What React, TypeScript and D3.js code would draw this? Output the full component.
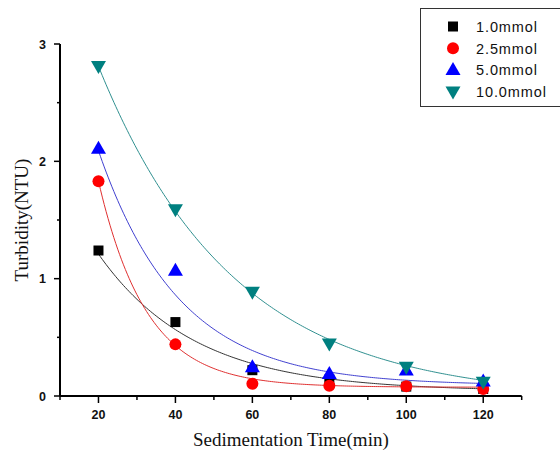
import React from "react";
import * as d3 from "d3";

// Sampling times (min)
const times = [20, 40, 60, 80, 100, 120];

// Measured turbidity (NTU) per dosage
const seriesNames = ["1.0mmol", "2.5mmol", "5.0mmol", "10.0mmol"];
const turbidity1 = [1.24, 0.63, 0.22, 0.14, 0.08, 0.06];
const turbidity25 = [1.83, 0.44, 0.105, 0.088, 0.083, 0.06];
const turbidity5 = [2.11, 1.07, 0.247, 0.19, 0.22, 0.125];
const turbidity10 = [2.81, 1.59, 0.887, 0.446, 0.247, 0.12];

// Exponential decay fits: y = y0 + A * exp(-(t - 20) / tau)
const fitY0 = [0.04, 0.075, 0.09, -0.03];
const fitA = [1.17, 1.755, 2.0, 2.84];
const fitTau = [25, 12.5, 21, 35];

const xTicks = [20, 40, 60, 80, 100, 120];
const yTicks = [0, 1, 2, 3];

const markerColors = ["#000000", "#ff0000", "#0000ff", "#008080"];
const lineColors = ["#333333", "#e03030", "#4040d0", "#309090"];
const markerKinds = ["square", "circle", "triangleUp", "triangleDown"];

const W = 560;
const H = 454;
const margin = { left: 60, right: 38, top: 44, bottom: 58 };

function markerPath(kind: string, cx: number, cy: number): string | null {
  if (kind === "triangleUp") {
    const h = 13, w = 15;
    return `M${cx},${cy - h * 0.6}L${cx + w / 2},${cy + h * 0.4}L${cx - w / 2},${cy + h * 0.4}Z`;
  }
  if (kind === "triangleDown") {
    const h = 13, w = 15;
    return `M${cx},${cy + h * 0.6}L${cx + w / 2},${cy - h * 0.4}L${cx - w / 2},${cy - h * 0.4}Z`;
  }
  return null;
}

function Marker({ kind, x, y, color }: { kind: string; x: number; y: number; color: string }) {
  if (kind === "square") {
    return <rect x={x - 5} y={y - 5} width={10} height={10} fill={color} />;
  }
  if (kind === "circle") {
    return <circle cx={x} cy={y} r={6} fill={color} />;
  }
  return <path d={markerPath(kind, x, y) as string} fill={color} />;
}

export default function App() {
  const x = d3.scaleLinear().domain([10, 130]).range([margin.left, W - margin.right - 0.3]);
  const y = d3.scaleLinear().domain([0, 3]).range([H - margin.bottom, margin.top]);

  const allSeries = [turbidity1, turbidity25, turbidity5, turbidity10];

  const line = d3
    .line<[number, number]>()
    .x((d) => x(d[0]))
    .y((d) => y(d[1]));

  const fitSamples = d3.range(20, 120.01, 0.5);
  const fitPaths = fitY0.map((y0, i) =>
    line(fitSamples.map((t) => [t, y0 + fitA[i] * Math.exp(-(t - 20) / fitTau[i])] as [number, number]))
  );

  const xMinor = d3.range(10, 131, 10).filter((v) => !xTicks.includes(v));
  const yMinor = [0.5, 1.5, 2.5];

  const axisFont = "'Liberation Sans', Arial, sans-serif";
  const titleFont = "'Liberation Serif', 'Times New Roman', serif";
  const y0px = y(0);
  const x0px = x(10);

  return (
    <svg width={W} height={H} style={{ position: "absolute", left: 0, top: 0, background: "#fff" }}>
      <rect width={W} height={H} fill="#fff" />

      {/* fitted curves */}
      {fitPaths.map((d, i) => (
        <path key={`fit-${i}`} d={d as string} fill="none" stroke={lineColors[i]} strokeWidth={1} />
      ))}

      {/* data markers */}
      {allSeries.map((vals, i) =>
        vals.map((v, j) => (
          <Marker key={`m-${i}-${j}`} kind={markerKinds[i]} x={x(times[j])} y={y(v)} color={markerColors[i]} />
        ))
      )}

      {/* x axis */}
      <line x1={x0px} x2={x(130)} y1={y0px} y2={y0px} stroke="#000" strokeWidth={2} />
      {xTicks.map((t) => (
        <g key={`xt-${t}`}>
          <line x1={x(t)} x2={x(t)} y1={y0px} y2={y0px + 7} stroke="#000" strokeWidth={1.5} />
          <text
            x={x(t)}
            y={y0px + 23}
            textAnchor="middle"
            fontFamily={axisFont}
            fontWeight="bold"
            fontSize={12.5}
            fill="#111"
          >
            {t}
          </text>
        </g>
      ))}
      {xMinor.map((t) => (
        <line key={`xm-${t}`} x1={x(t)} x2={x(t)} y1={y0px} y2={y0px + 4} stroke="#000" strokeWidth={1.5} />
      ))}

      {/* y axis */}
      <line x1={x0px} x2={x0px} y1={y(3)} y2={y0px} stroke="#000" strokeWidth={2} />
      {yTicks.map((t) => (
        <g key={`yt-${t}`}>
          <line x1={x0px - 6} x2={x0px} y1={y(t)} y2={y(t)} stroke="#000" strokeWidth={1.5} />
          <text
            x={x0px - 14}
            y={y(t) + 4.5}
            textAnchor="end"
            fontFamily={axisFont}
            fontWeight="bold"
            fontSize={12.5}
            fill="#111"
          >
            {t}
          </text>
        </g>
      ))}
      {yMinor.map((t) => (
        <line key={`ym-${t}`} x1={x0px - 3} x2={x0px} y1={y(t)} y2={y(t)} stroke="#000" strokeWidth={1.5} />
      ))}

      {/* axis titles */}
      <text
        x={(x0px + x(130)) / 2}
        y={H - 8}
        textAnchor="middle"
        fontFamily={titleFont}
        fontSize={19}
        fill="#111"
      >
        Sedimentation Time(min)
      </text>
      <text
        transform={`translate(28,${(y(0) + y(3)) / 2}) rotate(-90)`}
        textAnchor="middle"
        fontFamily={titleFont}
        fontSize={19}
        fill="#111"
      >
        Turbidity(NTU)
      </text>

      {/* legend */}
      <rect x={420.5} y={8.5} width={150} height={98} fill="#fff" stroke="#333" strokeWidth={1} />
      {seriesNames.map((name, i) => {
        const ry = 26.5 + i * 21.7;
        return (
          <g key={`lg-${i}`}>
            <Marker kind={markerKinds[i]} x={453} y={ry} color={markerColors[i]} />
            <text
              x={476}
              y={ry + 5.5}
              fontFamily={axisFont}
              fontSize={14.5}
              letterSpacing={0.9}
              fill="#111"
            >
              {name}
            </text>
          </g>
        );
      })}
    </svg>
  );
}
